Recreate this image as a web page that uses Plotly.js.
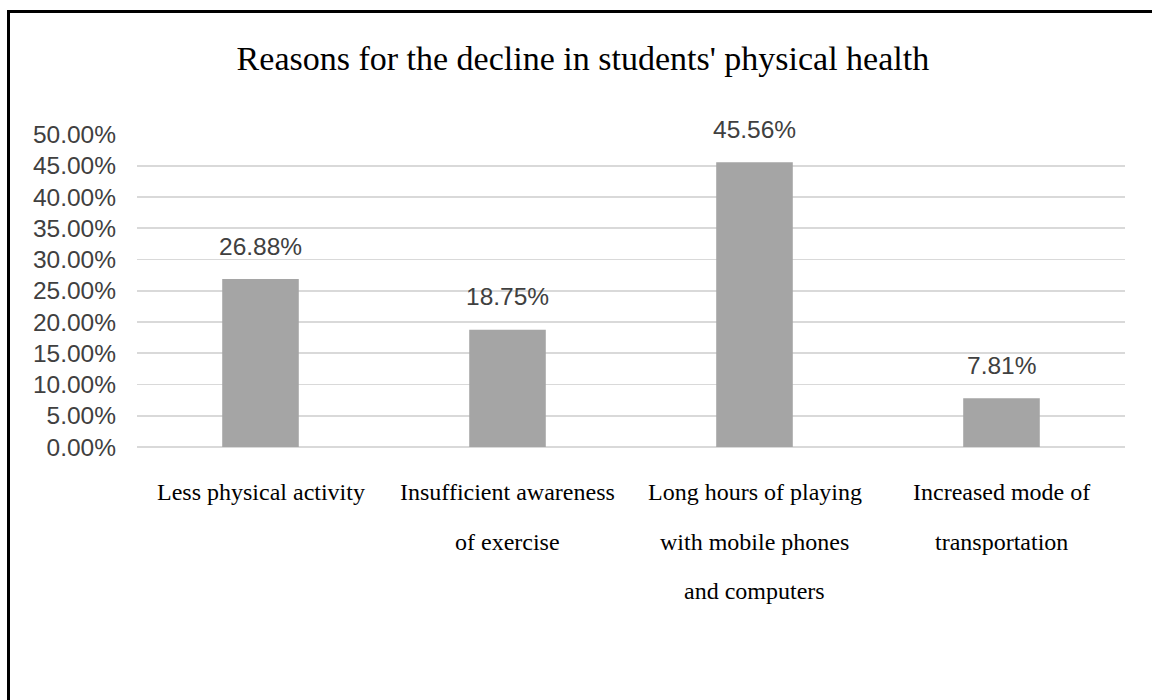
<!DOCTYPE html>
<html>
<head>
<meta charset="utf-8">
<script src="https://cdn.plot.ly/plotly-3.0.1.min.js"></script>
<style>
  html, body { margin: 0; padding: 0; width: 1152px; height: 700px; overflow: hidden; background: #fff; }
  #chart { position: absolute; left: 0; top: 0; width: 1152px; height: 700px; }
  #frame { position: absolute; left: 7px; top: 10px; width: 1200px; height: 760px;
           border-left: 3px solid #000; border-top: 3px solid #000; pointer-events: none; }
</style>
</head>
<body>
<div id="chart"></div>
<div id="frame"></div>
<script>
// ---- data ----
const categories = [
  "Less physical activity",
  "Insufficient awareness of exercise",
  "Long hours of playing with mobile phones and computers",
  "Increased mode of transportation"
];
const categoryLines = [
  ["Less physical activity"],
  ["Insufficient awareness", "of exercise"],
  ["Long hours of playing", "with mobile phones", "and computers"],
  ["Increased mode of", "transportation"]
];
const shares = [0.2688, 0.1875, 0.4556, 0.0781];
const yTickVals = [0, 0.05, 0.10, 0.15, 0.20, 0.25, 0.30, 0.35, 0.40, 0.45, 0.50];
const chartTitle = "Reasons for the decline in students' physical health";

// ---- annotations: value labels + category labels ----
const annotations = [];
shares.forEach((v, i) => {
  annotations.push({
    x: categories[i], y: v, xref: 'x', yref: 'y',
    text: (v * 100).toFixed(2) + '%',
    showarrow: false, yanchor: 'middle', yshift: 33,
    font: { family: 'Liberation Sans, Arial, sans-serif', size: 24.5, color: '#404040' }
  });
});
categoryLines.forEach((lines, i) => {
  lines.forEach((line, j) => {
    annotations.push({
      x: categories[i], y: 0, xref: 'x', yref: 'paper',
      text: line, showarrow: false, yanchor: 'middle',
      yshift: -(45 + 49.7 * j),
      font: { family: 'Liberation Serif, Times New Roman, serif', size: 24, color: '#000' }
    });
  });
});

const trace = {
  type: 'bar',
  x: categories,
  y: shares,
  marker: { color: '#A5A5A5', line: { width: 0 } },
  hoverinfo: 'x+y'
};

const layout = {
  width: 1152, height: 700,
  margin: { l: 137, r: 27, t: 134, b: 253 },
  paper_bgcolor: '#ffffff', plot_bgcolor: '#ffffff',
  showlegend: false,
  bargap: 0.69,
  title: {
    text: chartTitle,
    x: 0.506, xanchor: 'center',
    y: 1 - 58 / 700, yref: 'container', yanchor: 'middle',
    font: { family: 'Liberation Serif, Times New Roman, serif', size: 34, color: '#000' }
  },
  xaxis: {
    type: 'category',
    showticklabels: false,
    showgrid: false, zeroline: false, showline: false, ticks: ''
  },
  yaxis: {
    range: [0, 0.5008],
    tickvals: yTickVals,
    tickformat: '.2%',
    showgrid: true, gridcolor: '#D9D9D9', gridwidth: 1.6,
    zeroline: true, zerolinecolor: '#D9D9D9', zerolinewidth: 1.6,
    showline: false, ticks: '',
    ticklabelstandoff: 20,
    tickfont: { family: 'Liberation Sans, Arial, sans-serif', size: 24.5, color: '#404040' }
  },
  annotations: annotations
};

Plotly.newPlot('chart', [trace], layout, { displayModeBar: false, staticPlot: true });
</script>
</body>
</html>
